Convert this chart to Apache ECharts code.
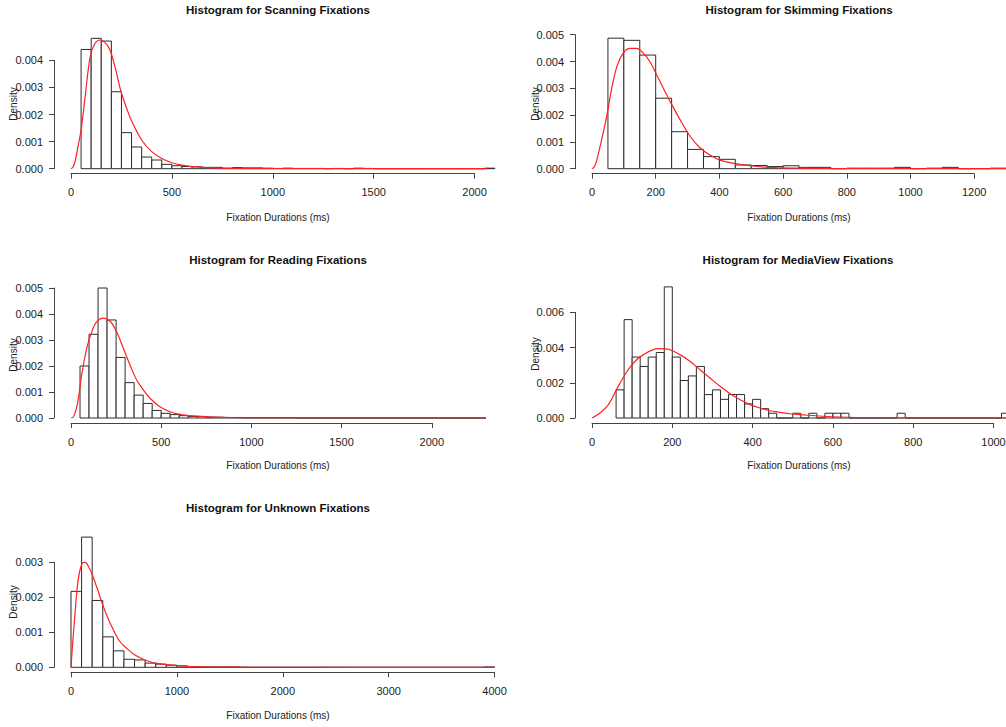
<!DOCTYPE html>
<html>
<head>
<meta charset="utf-8">
<title>Fixation duration histograms</title>
<script src="https://cdn.jsdelivr.net/npm/echarts@6/dist/echarts.min.js"></script>
<style>
  html, body { margin: 0; padding: 0; background: #fff; }
  #chart { width: 1006px; height: 727px; }
</style>
</head>
<body>
<div id="chart"></div>
<script>
  // histogram densities, one value per bin
  var scanDensity = [0.00440, 0.00481, 0.00471, 0.00284, 0.00133, 0.00080, 0.00043, 0.00032, 0.00016, 0.00011,
    0.00008, 0.00007, 0.00005, 0.00005, 0.00002, 0.00004, 0.00003, 0.00003, 0.00002, 0.00001,
    0.00002, 0.00001, 0.00001, 0.00001, 0, 0.00001, 0, 0.00002, 0.00001,
    0, 0, 0, 0, 0, 0, 0, 0, 0, 0, 0, 0.00002]
  var skimDensity = [0.00487, 0.00479, 0.00424, 0.00263, 0.00138, 0.00072, 0.00045, 0.00035, 0.00014, 0.00012,
    0.00008, 0.00011, 0.00005, 0.00005, 0, 0.00002, 0.00002, 0.00002, 0.00005, 0,
    0.00002, 0.00005, 0, 0, 0.00002]
  var readDensity = [0.00200, 0.00322, 0.00500, 0.00377, 0.00233, 0.00136, 0.00088, 0.00056, 0.00029, 0.00018,
    0.00013, 0.00009, 0.00006, 0.00005, 0.00003, 0.00003, 0.00002, 0.00002,
    0.00001, 0.00001, 0.00001, 0.00001, 0.00001, 0.00001,
    0, 0, 0, 0, 0, 0, 0, 0, 0, 0, 0, 0, 0, 0, 0, 0, 0, 0, 0, 0, 0]
  var mediaDensity = [0.00160, 0.00559, 0.00346, 0.00293, 0.00346, 0.00372, 0.00745, 0.00346, 0.00213, 0.00239,
    0.00293, 0.00133, 0.00160, 0.00106, 0.00133, 0.00133, 0.00080, 0.00106, 0.00053, 0.00027,
    0, 0, 0.00027, 0, 0.00027, 0, 0.00027, 0.00027, 0.00027,
    0, 0, 0, 0, 0, 0, 0.00027,
    0, 0, 0, 0, 0, 0, 0, 0, 0, 0, 0, 0, 0.00027]
  var unkDensity = [0.00217, 0.00372, 0.00191, 0.00087, 0.00047, 0.00023, 0.00021, 0.00012, 0.00009, 0.00006,
    0.00004, 0.00002, 0.00001, 0.00001, 0.00001, 0.00001,
    0, 0, 0, 0, 0, 0, 0, 0, 0, 0, 0, 0, 0, 0, 0, 0, 0, 0, 0, 0, 0, 0, 0, 0.00001]

  // fitted density curves (red lines)
  var scanCurveX = [0, 10, 20, 36, 50, 70, 95, 119, 144, 169, 193, 218, 248, 275, 298, 350, 400, 450, 500, 550, 600, 700, 800, 1000, 1200, 1500, 2060]
  var scanCurveY = [0, 0.00006, 0.00026, 0.00087, 0.00143, 0.00266, 0.00413, 0.00463, 0.00475, 0.00465, 0.00438, 0.00376, 0.00284, 0.00225, 0.00180, 0.00106, 0.00063, 0.00038, 0.00022, 0.00013, 0.00008, 0.00003, 0.000012, 0.000003, 0.000001, 0, 0]
  var skimCurveX = [0, 8, 15, 30, 46, 62, 78, 98, 119, 140, 161, 182, 203, 224, 250, 276, 308, 339, 370, 402, 444, 496, 569, 673, 800, 1000, 1300]
  var skimCurveY = [0, 0.00008, 0.00032, 0.00107, 0.00194, 0.00300, 0.00381, 0.00431, 0.00449, 0.00449, 0.00431, 0.00399, 0.00350, 0.00300, 0.00240, 0.00184, 0.00121, 0.00078, 0.00051, 0.00032, 0.00020, 0.00011, 0.00004, 0.000015, 0.000005, 0.000001, 0]
  var readCurveX = [0, 4, 22, 41, 59, 87, 115, 142, 179, 216, 253, 290, 327, 364, 401, 438, 493, 549, 604, 678, 770, 900, 1100, 1400, 2300]
  var readCurveY = [0, 0, 0.00018, 0.00076, 0.00165, 0.00268, 0.00332, 0.00370, 0.00384, 0.00373, 0.00332, 0.00268, 0.00204, 0.00146, 0.00108, 0.00076, 0.00043, 0.00024, 0.00014, 0.00008, 0.00004, 0.000015, 0.000004, 0.000001, 0]
  var mediaCurveX = [0, 20, 41, 61, 82, 103, 128, 165, 194, 219, 244, 269, 294, 319, 344, 369, 394, 418, 443, 468, 493, 518, 600, 700, 800, 1040]
  var mediaCurveY = [0, 0.00028, 0.00076, 0.00161, 0.00246, 0.00312, 0.00360, 0.00394, 0.00388, 0.00360, 0.00322, 0.00274, 0.00227, 0.00180, 0.00138, 0.00104, 0.00076, 0.00057, 0.00041, 0.00032, 0.00024, 0.00019, 0.00007, 0.00002, 0.000005, 0]
  var unkCurveX = [0, 16, 38, 60, 85, 117, 148, 195, 242, 290, 337, 400, 463, 526, 604, 699, 809, 935, 1155, 1500, 2000, 4000]
  var unkCurveY = [0, 0.00069, 0.00154, 0.00230, 0.00278, 0.00300, 0.00297, 0.00269, 0.00230, 0.00187, 0.00149, 0.00107, 0.00073, 0.00054, 0.00035, 0.00021, 0.00011, 0.00007, 0.00002, 0.000005, 0.000001, 0]

  var titles = ['Histogram for Scanning Fixations', 'Histogram for Skimming Fixations',
    'Histogram for Reading Fixations', 'Histogram for MediaView Fixations', 'Histogram for Unknown Fixations']
  var xLabel = 'Fixation Durations (ms)'
  var yLabel = 'Density'

  var FONT = '"Liberation Sans", Arial, Helvetica, sans-serif'

  // layout of every panel: pixel origin, pixel scale, tick range, plotted range
  var panels = [
    { title: titles[0], density: scanDensity, binStart: 50, binWidth: 50, cx: scanCurveX, cy: scanCurveY,
      x0: 71, kx: 0.2018, y0: 168.7, ky: 27100, xTickMax: 2000, xStep: 500, yTickMax: 0.004, yStep: 0.001,
      xMax: 2100, yMax: 0.005, tx: 278, ty: 10, lx: 278, ly: 217, dx: 13, dy: 104 },
    { title: titles[1], density: skimDensity, binStart: 50, binWidth: 50, cx: skimCurveX, cy: skimCurveY,
      x0: 592, kx: 0.3185, y0: 168.7, ky: 26800, xTickMax: 1200, xStep: 200, yTickMax: 0.005, yStep: 0.001,
      xMax: 1300, yMax: 0.005, tx: 799, ty: 10, lx: 799, ly: 217, dx: 535, dy: 104 },
    { title: titles[2], density: readDensity, binStart: 50, binWidth: 50, cx: readCurveX, cy: readCurveY,
      x0: 71, kx: 0.1804, y0: 418, ky: 26000, xTickMax: 2000, xStep: 500, yTickMax: 0.005, yStep: 0.001,
      xMax: 2300, yMax: 0.0052, tx: 278, ty: 260, lx: 278, ly: 465, dx: 13, dy: 355 },
    { title: titles[3], density: mediaDensity, binStart: 60, binWidth: 20, cx: mediaCurveX, cy: mediaCurveY,
      x0: 592, kx: 0.4015, y0: 418, ky: 17600, xTickMax: 1000, xStep: 200, yTickMax: 0.006, yStep: 0.002,
      xMax: 1040, yMax: 0.0076, tx: 798, ty: 260, lx: 799, ly: 465, dx: 535, dy: 354 },
    { title: titles[4], density: unkDensity, binStart: 0, binWidth: 100, cx: unkCurveX, cy: unkCurveY,
      x0: 71, kx: 0.1059, y0: 667.3, ky: 35000, xTickMax: 4000, xStep: 1000, yTickMax: 0.003, yStep: 0.001,
      xMax: 4000, yMax: 0.0038, tx: 278, ty: 508, lx: 278, ly: 715, dx: 13, dy: 602 }
  ]

  var grid = []
  var xAxis = []
  var yAxis = []
  var series = []
  var graphic = []

  function renderBar (params, api) {
    var topLeft = api.coord([api.value(0), api.value(2)])
    var bottomRight = api.coord([api.value(1), 0])
    return {
      type: 'rect',
      shape: { x: topLeft[0], y: topLeft[1], width: bottomRight[0] - topLeft[0], height: bottomRight[1] - topLeft[1] },
      style: { fill: '#fff', stroke: '#2b2b2b', lineWidth: 1 }
    }
  }

  panels.forEach(function (p) {
    var plotGrid = grid.length
    // plotting area (data)
    grid.push({
      left: p.x0, top: p.y0 - p.yMax * p.ky, width: p.xMax * p.kx, height: p.yMax * p.ky,
      outerBoundsMode: 'none'
    })
    xAxis.push({ gridIndex: plotGrid, type: 'value', min: 0, max: p.xMax, show: false })
    yAxis.push({ gridIndex: plotGrid, type: 'value', min: 0, max: p.yMax, show: false })

    // R style detached axes: only as long as the tick range
    var axisGrid = grid.length
    grid.push({
      left: p.x0, top: p.y0 - p.yTickMax * p.ky, width: p.xTickMax * p.kx, height: p.yTickMax * p.ky,
      outerBoundsMode: 'none'
    })
    xAxis.push({
      gridIndex: axisGrid, type: 'value', min: 0, max: p.xTickMax, interval: p.xStep, offset: 5,
      axisLine: { show: true, onZero: false, lineStyle: { color: '#444', width: 1 } },
      axisTick: { show: true, length: 5, lineStyle: { color: '#444' } },
      axisLabel: {
        color: '#222', fontSize: 11, fontFamily: FONT, margin: 13, showMinLabel: true, showMaxLabel: true,
        formatter: function (v) { return String(v) }
      },
      splitLine: { show: false }
    })
    yAxis.push({
      gridIndex: axisGrid, type: 'value', min: 0, max: p.yTickMax, interval: p.yStep, offset: 17,
      axisLine: { show: true, onZero: false, lineStyle: { color: '#444', width: 1 } },
      axisTick: { show: true, length: 5, lineStyle: { color: '#444' } },
      axisLabel: {
        color: '#222', fontSize: 11, fontFamily: FONT, margin: 11,
        formatter: function (v) { return v.toFixed(3) }
      },
      splitLine: { show: false }
    })

    var bars = p.density.map(function (d, k) {
      var start = p.binStart + k * p.binWidth
      return [start, start + p.binWidth, d]
    })
    series.push({
      type: 'custom',
      xAxisIndex: plotGrid,
      yAxisIndex: plotGrid,
      renderItem: renderBar,
      encode: { x: [0, 1], y: 2 },
      data: bars,
      z: 2
    })
    series.push({
      type: 'line',
      xAxisIndex: plotGrid,
      yAxisIndex: plotGrid,
      data: p.cx.map(function (x, k) { return [x, p.cy[k]] }),
      showSymbol: false,
      smooth: 0.35,
      lineStyle: { color: '#ff2020', width: 1.2 },
      z: 3
    })

    graphic.push({
      type: 'text', x: p.tx, y: p.ty,
      style: { text: p.title, font: 'bold 11.5px ' + FONT, fill: '#111', align: 'center', verticalAlign: 'middle' }
    })
    graphic.push({
      type: 'text', x: p.lx, y: p.ly,
      style: { text: xLabel, font: '10px ' + FONT, fill: '#222', align: 'center', verticalAlign: 'middle' }
    })
    graphic.push({
      type: 'text', x: p.dx, y: p.dy, rotation: Math.PI / 2,
      style: { text: yLabel, font: '10px ' + FONT, fill: '#222', align: 'center', verticalAlign: 'middle' }
    })
  })

  var myChart = echarts.init(document.getElementById('chart'), null, { renderer: 'svg' })
  myChart.setOption({
    backgroundColor: '#fff',
    animation: false,
    grid: grid,
    xAxis: xAxis,
    yAxis: yAxis,
    series: series,
    graphic: graphic
  })
</script>
</body>
</html>
